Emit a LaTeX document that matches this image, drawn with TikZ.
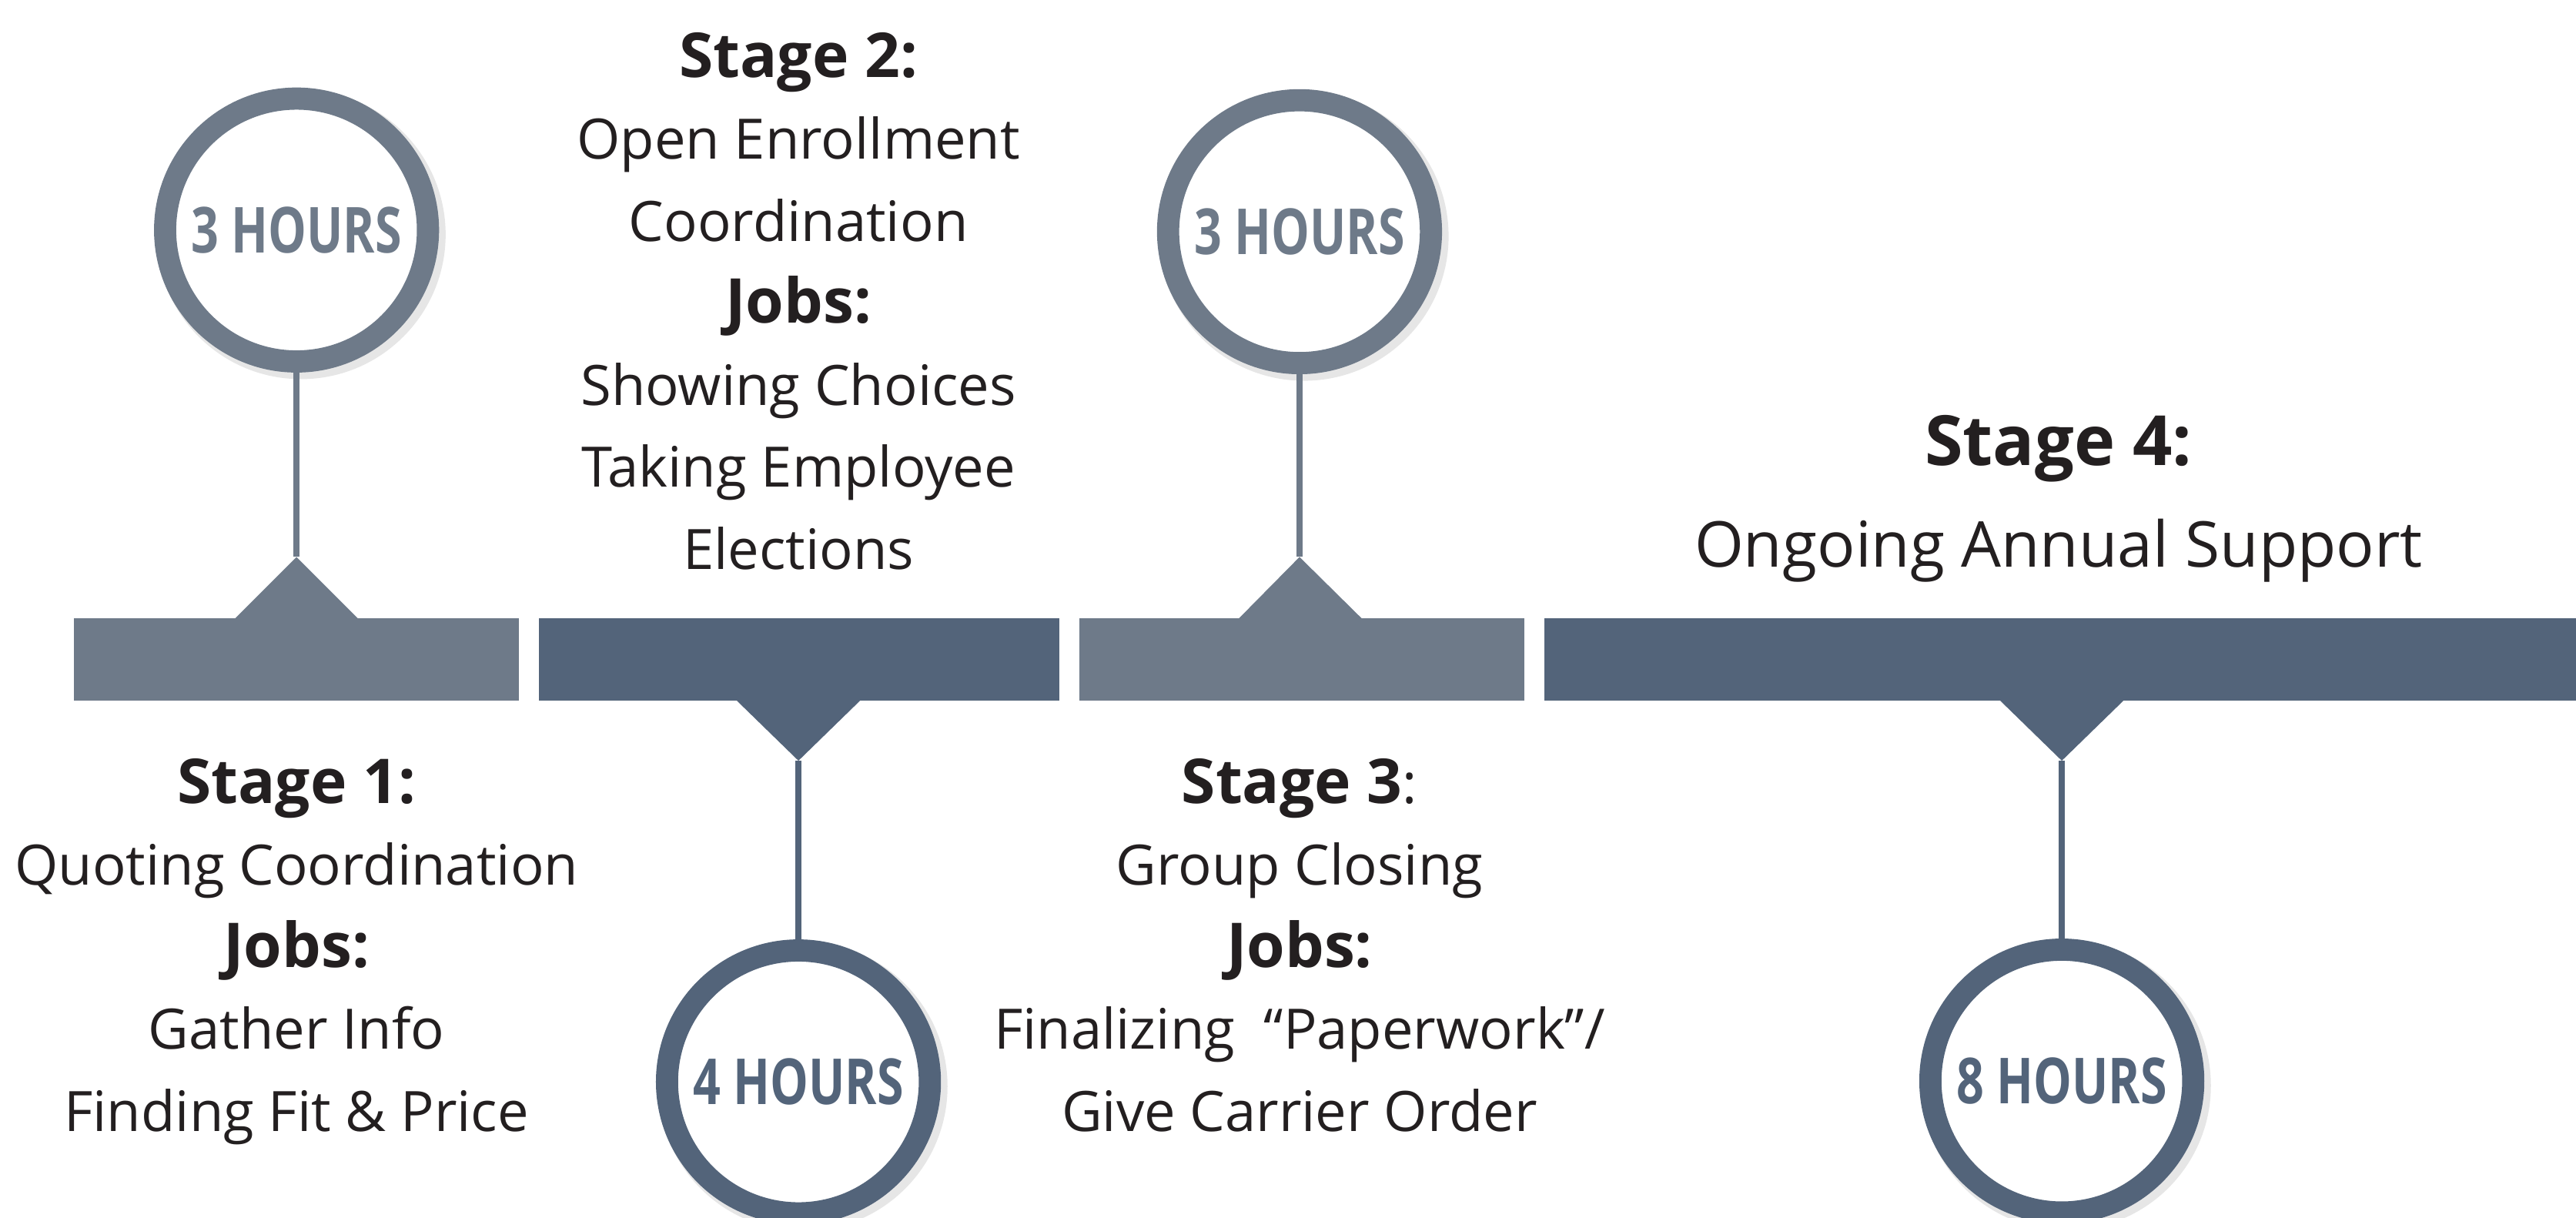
\documentclass[tikz,border=0pt]{standalone}
\usepackage{fontspec}
\setmainfont{Open Sans}
\newfontfamily\hoursfont[FakeStretch=0.76]{Open Sans}
\usepackage{tikz}
\usetikzlibrary{positioning,shadows}
\definecolor{slatelight}{HTML}{6E7A89}
\definecolor{slatedark}{HTML}{53647A}
\definecolor{inkblack}{HTML}{231F20}
\newcommand{\stagehead}[1]{{\fontsize{10.7}{14.2}\selectfont\bfseries #1}}

\begin{document}
\begin{tikzpicture}[
  bar/.style={rectangle, inner sep=0pt, minimum height=0.5cm},
  ring/.style={circle, draw=#1, fill=white, line width=0.135cm, minimum size=1.6cm, inner sep=0pt,
    text=#1, font=\hoursfont\bfseries\fontsize{11}{13}\selectfont,
    drop shadow={shadow xshift=0.025cm, shadow yshift=-0.025cm, shadow scale=1.1, opacity=0.2}},
  stem/.style={draw=#1, line width=0.037cm},
  stagetext/.style={align=center, text=inkblack, inner sep=0pt, font=\fontsize{9.65}{14.2}\selectfont}
]
\useasboundingbox (0cm,0cm) rectangle (15.68cm,-7.41cm);

% bars
\node[bar, fill=slatelight, minimum width=2.71cm] (b1) at (1.805cm,-4.015cm) {};
\node[bar, fill=slatedark, minimum width=3.17cm] (b2) at (4.865cm,-4.015cm) {};
\node[bar, fill=slatelight, minimum width=2.71cm] (b3) at (7.925cm,-4.015cm) {};
\node[bar, fill=slatedark, minimum width=6.28cm] (b4) at (12.54cm,-4.015cm) {};

% pointers
\coordinate (t1) at (1.805cm,-3.39cm);
\coordinate (t2) at (4.86cm,-4.63cm);
\coordinate (t3) at (7.91cm,-3.39cm);
\coordinate (t4) at (12.55cm,-4.63cm);
\fill[slatelight] (1.415cm,-3.78cm) -- (t1) -- (2.195cm,-3.78cm) -- cycle;
\fill[slatedark] (4.47cm,-4.25cm) -- (t2) -- (5.25cm,-4.25cm) -- cycle;
\fill[slatelight] (7.525cm,-3.78cm) -- (t3) -- (8.305cm,-3.78cm) -- cycle;
\fill[slatedark] (12.16cm,-4.25cm) -- (t4) -- (12.94cm,-4.25cm) -- cycle;

% hour circles
\node[ring=slatelight] (h1) at (1.805cm,-1.40cm) {3 HOURS};
\node[ring=slatedark] (h2) at (4.86cm,-6.585cm) {4 HOURS};
\node[ring=slatelight] (h3) at (7.91cm,-1.41cm) {3 HOURS};
\node[ring=slatedark] (h4) at (12.55cm,-6.58cm) {8 HOURS};
\draw[stem=slatelight] (h1) -- (t1);
\draw[stem=slatedark] (h2) -- (t2);
\draw[stem=slatelight] (h3) -- (t3);
\draw[stem=slatedark] (h4) -- (t4);

% stage texts
\node[stagetext, anchor=north] (s2) at (4.86cm,-0.19cm)
  {\stagehead{Stage 2:}\\Open Enrollment\\Coordination\\\stagehead{Jobs:}\\Showing Choices\\Taking Employee\\Elections};
\node[stagetext, anchor=north] (s1) at (1.805cm,-4.61cm)
  {\stagehead{Stage 1:}\\Quoting Coordination\\\stagehead{Jobs:}\\Gather Info\\Finding Fit \& Price};
\node[stagetext, anchor=north] (s3) at (7.91cm,-4.61cm)
  {\stagehead{Stage 3}:\\Group Closing\\\stagehead{Jobs:}\\Finalizing\ \ ``Paperwork''/\\Give Carrier Order};
\node[stagetext, anchor=north, font=\bfseries\fontsize{12}{14}\selectfont] (s4) at (12.53cm,-2.52cm) {Stage 4:};
\node[stagetext, font=\fontsize{10.95}{14}\selectfont, below=0.21cm of s4] (s4text) {Ongoing Annual Support};
\end{tikzpicture}
\end{document}
